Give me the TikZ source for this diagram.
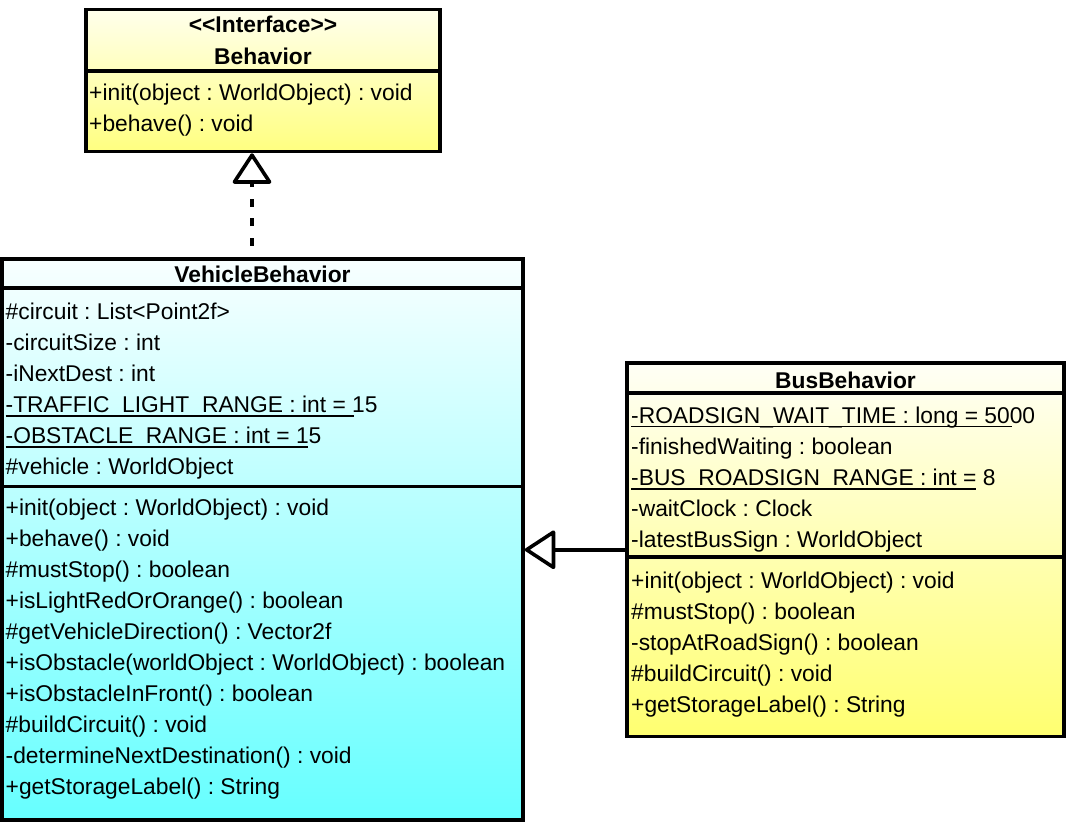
\documentclass[tikz,border=0pt]{standalone}
\usepackage{fontspec}
\setmainfont{Liberation Sans}
\usetikzlibrary{arrows.meta}
\definecolor{ytop}{HTML}{FFFFEC}
\definecolor{ybot}{HTML}{FFFF80}
\definecolor{btop}{HTML}{FFFFF6}
\definecolor{bbot}{HTML}{FFFF70}
\definecolor{ctop}{HTML}{F8FFFF}
\definecolor{cbot}{HTML}{66FFFF}
\frenchspacing
\begin{document}
\begin{tikzpicture}[x=1pt,y=-1pt,
  umlbox/.style={draw=black, line width=3.6pt, inner sep=0pt, anchor=center},
  divider/.style={line width=3.6pt},
  member/.style={anchor=base west, inner sep=0pt, font=\fontsize{22.8}{27}\selectfont\frenchspacing},
  classname/.style={anchor=base, inner sep=0pt, font=\fontsize{22.8}{27}\selectfont\bfseries},
  uline/.style={line width=1.8pt},
  realize/.style={line width=3.6pt, dash pattern=on 8pt off 11.5pt, dash phase=8pt, -{Triangle[open, round, length=32pt, width=41pt]}},
  inherit/.style={line width=3.6pt, -{Triangle[open, round, length=32pt, width=41pt]}},
]
\useasboundingbox (0,0) rectangle (1077,833);

% boxes
\node[umlbox, minimum width=354pt, minimum height=142pt, top color=ytop, bottom color=ybot] (behavior) at (263,80.5) {};
\node[umlbox, minimum width=521pt, minimum height=561pt, top color=ctop, bottom color=cbot] (vehicle) at (262.5,539.5) {};
\node[umlbox, minimum width=437pt, minimum height=373.5pt, top color=btop, bottom color=bbot] (bus) at (845.5,549.75) {};

% dividers
\draw[divider] (behavior.west |- 0,71) -- (behavior.east |- 0,71);
\draw[divider] (vehicle.west |- 0,288) -- (vehicle.east |- 0,288);
\draw[divider] (vehicle.west |- 0,486.5) -- (vehicle.east |- 0,486.5);
\draw[divider] (bus.west |- 0,393) -- (bus.east |- 0,393);
\draw[divider] (bus.west |- 0,557) -- (bus.east |- 0,557);

% Behavior texts
\node[classname] (bi) at (263,32) {<{}<Interface>{}>};
\node[classname] (bn) at (263,64) {Behavior};
\node[member] (bm0) at (89,100) {+init(object : WorldObject) : void};
\node[member] (bm1) at (89,131) {+behave() : void};

% VehicleBehavior texts
\node[classname] (vn) at (262.5,282) {VehicleBehavior};
\foreach \t [count=\i from 0] in {%
  {\#circuit : List<Point2f>},
  {-circuitSize : int},
  {-iNextDest : int},
  {-TRAFFIC\_LIGHT\_RANGE : int = 15},
  {-OBSTACLE\_RANGE : int = 15},
  {\#vehicle : WorldObject}}
  \node[member] (va\i) at (5.5,{319+31.1*\i}) {\t};
\foreach \t [count=\i from 0] in {%
  {+init(object : WorldObject) : void},
  {+behave() : void},
  {\#mustStop() : boolean},
  {+isLightRedOrOrange() : boolean},
  {\#getVehicleDirection() : Vector2f},
  {+isObstacle(worldObject : WorldObject) : boolean},
  {+isObstacleInFront() : boolean},
  {\#buildCircuit() : void},
  {-determineNextDestination() : void},
  {+getStorageLabel() : String}}
  \node[member] (vm\i) at (5.5,{515+31.1*\i}) {\t};

% BusBehavior texts
\node[classname] (bsn) at (845.5,388) {BusBehavior};
\foreach \t [count=\i from 0] in {%
  {-ROADSIGN\_WAIT\_TIME : long = 5000},
  {-finishedWaiting : boolean},
  {-BUS\_ROADSIGN\_RANGE : int = 8},
  {-waitClock : Clock},
  {-latestBusSign : WorldObject}}
  \node[member] (ba\i) at (631,{423+31.2*\i}) {\t};
\foreach \t [count=\i from 0] in {%
  {+init(object : WorldObject) : void},
  {\#mustStop() : boolean},
  {-stopAtRoadSign() : boolean},
  {\#buildCircuit() : void},
  {+getStorageLabel() : String}}
  \node[member] (bb\i) at (631,{588+31.2*\i}) {\t};

% underlines (static members)
\draw[uline] ([yshift=-3.5pt]va3.base west) -- ++(348.5,0);
\draw[uline] ([yshift=-3.5pt]va4.base west) -- ++(302.5,0);
\draw[uline] ([yshift=-3.5pt]ba0.base west) -- ++(381,0);
\draw[uline] ([yshift=-3.5pt]ba2.base west) -- ++(345,0);

% connectors
\draw[realize] ([xshift=-10.5pt]vehicle.north) -- ([xshift=-10.5pt]vehicle.north |- behavior.south);
\draw[inherit] (bus.west) -- (bus.west -| vehicle.east);
\end{tikzpicture}
\end{document}
